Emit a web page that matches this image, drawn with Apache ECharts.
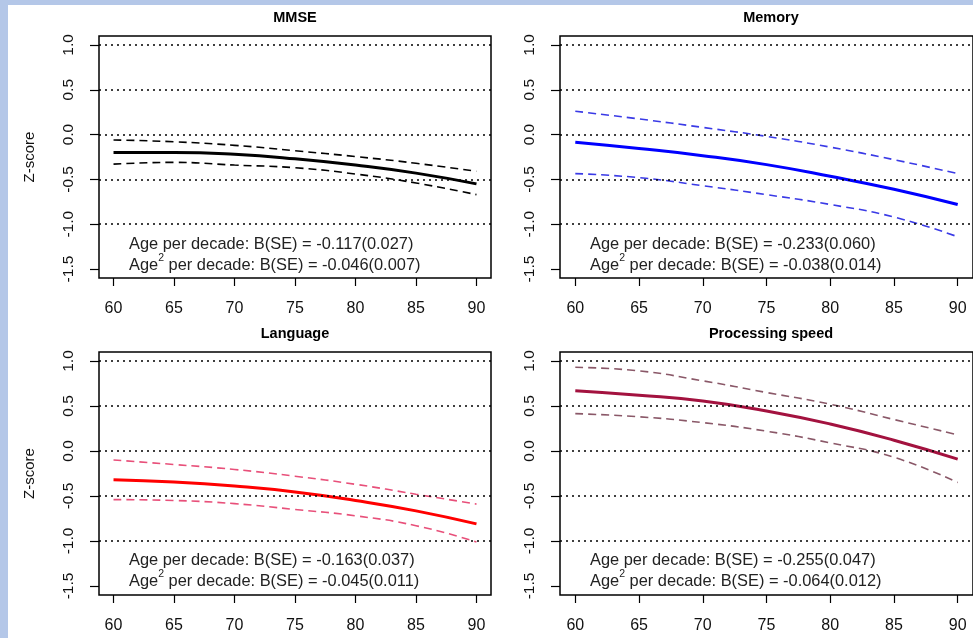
<!DOCTYPE html>
<html>
<head>
<meta charset="utf-8">
<script src="https://cdn.jsdelivr.net/npm/echarts@6/dist/echarts.min.js"></script>
<style>
  html, body { margin: 0; padding: 0; background: #fff; }
  #main { width: 973px; height: 638px; }
</style>
</head>
<body>
<div id="main"></div>
<script>
// ages on the x axis
var ages = [60, 65, 70, 75, 80, 85, 90];
var xTicks = [60, 65, 70, 75, 80, 85, 90];
var yTicks = [-1.5, -1.0, -0.5, 0.0, 0.5, 1.0];
var refLines = [1.0, 0.5, 0.0, -0.5, -1.0];

// MMSE
var mmseFit   = [-0.20, -0.20, -0.22, -0.27, -0.34, -0.43, -0.55];
var mmseUpper = [-0.06, -0.08, -0.12, -0.18, -0.245, -0.32, -0.41];
var mmseLower = [-0.33, -0.31, -0.34, -0.37, -0.44, -0.54, -0.67];
// Memory
var memFit   = [-0.085, -0.155, -0.235, -0.335, -0.465, -0.61, -0.78];
var memUpper = [0.26, 0.175, 0.08, -0.02, -0.14, -0.28, -0.435];
var memLower = [-0.435, -0.48, -0.57, -0.67, -0.78, -0.92, -1.14];
// Language
var langFit   = [-0.32, -0.345, -0.39, -0.455, -0.55, -0.665, -0.81];
var langUpper = [-0.10, -0.15, -0.205, -0.28, -0.37, -0.48, -0.59];
var langLower = [-0.54, -0.55, -0.585, -0.65, -0.72, -0.83, -1.01];
// Processing speed
var speedFit   = [0.67, 0.62, 0.555, 0.445, 0.30, 0.12, -0.09];
var speedUpper = [0.93, 0.89, 0.78, 0.65, 0.52, 0.35, 0.18];
var speedLower = [0.415, 0.38, 0.315, 0.22, 0.09, -0.07, -0.35];

var titles = ['MMSE', 'Memory', 'Language', 'Processing speed'];
var ageCoef  = ['-0.117(0.027)', '-0.233(0.060)', '-0.163(0.037)', '-0.255(0.047)'];
var age2Coef = ['-0.046(0.007)', '-0.038(0.014)', '-0.045(0.011)', '-0.064(0.012)'];

var panels = [
    {left: 99,  top: 36,  width: 392, height: 242, fit: mmseFit,  up: mmseUpper,  lo: mmseLower,  color: '#000000', dash: '#000000', zlabel: true},
    {left: 560, top: 36,  width: 422, height: 242, fit: memFit,   up: memUpper,   lo: memLower,   color: '#0000ff', dash: '#3a3ae6', zlabel: false},
    {left: 99,  top: 352, width: 392, height: 243, fit: langFit,  up: langUpper,  lo: langLower,  color: '#ff0000', dash: '#e8507a', zlabel: true},
    {left: 560, top: 352, width: 422, height: 243, fit: speedFit, up: speedUpper, lo: speedLower, color: '#a3123f', dash: '#8a5868', zlabel: false}
];

function pairs(vals) {
    return ages.map(function (a, i) { return [a, vals[i]]; });
}

var font = '"Liberation Sans", Arial, sans-serif';
var grids = [], xAxes = [], yAxes = [], series = [];
var graphics = [
    {type: 'rect', shape: {x: 0, y: 0, width: 973, height: 638}, style: {fill: '#b4c7e8'}, z: -10, silent: true},
    {type: 'rect', shape: {x: 8, y: 5, width: 965, height: 633}, style: {fill: '#ffffff'}, z: -9, silent: true}
];

panels.forEach(function (p, i) {
    grids.push({
        left: p.left, top: p.top, width: p.width, height: p.height,
        show: true, borderColor: '#000', borderWidth: 1.5, backgroundColor: 'transparent'
    });
    xAxes.push({
        gridIndex: i, type: 'value', min: 58.8, max: 91.2, position: 'bottom',
        axisLine: {show: false, onZero: false},
        axisTick: {show: true, inside: false, length: 8, customValues: xTicks, lineStyle: {color: '#000', width: 1.2}},
        axisLabel: {customValues: xTicks, margin: 23, color: '#111', fontSize: 16, fontFamily: font},
        splitLine: {show: false}
    });
    yAxes.push({
        gridIndex: i, type: 'value', min: -1.6, max: 1.1, position: 'left',
        name: p.zlabel ? 'Z-score' : '',
        nameLocation: 'middle', nameRotate: 90, nameGap: 62,
        nameTextStyle: {color: '#111', fontSize: 15, fontFamily: font},
        axisLine: {show: false, onZero: false},
        axisTick: {show: true, inside: false, length: 9, customValues: yTicks, lineStyle: {color: '#000', width: 1.2}},
        axisLabel: {
            customValues: yTicks, rotate: 90, margin: 22, color: '#111', fontSize: 15.5, fontFamily: font,
            formatter: function (v) { return v.toFixed(1); }
        },
        splitLine: {show: false}
    });
    series.push({
        type: 'line', xAxisIndex: i, yAxisIndex: i, data: pairs(p.fit),
        smooth: true, showSymbol: false, silent: true,
        lineStyle: {color: p.color, width: 3},
        markLine: {
            silent: true, symbol: 'none', label: {show: false}, animation: false,
            lineStyle: {color: '#000', type: [2, 4], width: 1.5},
            data: refLines.map(function (v) { return {yAxis: v}; })
        },
        z: 3
    });
    series.push({
        type: 'line', xAxisIndex: i, yAxisIndex: i, data: pairs(p.up),
        smooth: true, showSymbol: false, silent: true,
        lineStyle: {color: p.dash, width: 1.6, type: [8, 5]}
    });
    series.push({
        type: 'line', xAxisIndex: i, yAxisIndex: i, data: pairs(p.lo),
        smooth: true, showSymbol: false, silent: true,
        lineStyle: {color: p.dash, width: 1.6, type: [8, 5]}
    });

    // panel title
    graphics.push({
        type: 'text', x: p.left + p.width / 2, y: p.top - 18,
        style: {text: titles[i], align: 'center', verticalAlign: 'middle', fill: '#000',
                font: 'bold 14.5px ' + font}
    });
    // coefficient notes
    var tx = p.left + 30;
    graphics.push({
        type: 'text', x: tx, y: p.top + 208,
        style: {text: 'Age per decade: B(SE) = ' + ageCoef[i], align: 'left', verticalAlign: 'middle',
                fill: '#222', font: '16.4px ' + font}
    });
    graphics.push({
        type: 'text', x: tx, y: p.top + 227,
        style: {
            text: '{a|Age}{s|2}{a| per decade: B(SE) = ' + age2Coef[i] + '}',
            align: 'left', verticalAlign: 'middle', fill: '#222', font: '16.4px ' + font,
            rich: {
                a: {fontSize: 16.4, fontFamily: font, fill: '#222', lineHeight: 20, verticalAlign: 'bottom'},
                s: {fontSize: 10.5, fontFamily: font, fill: '#222', lineHeight: 20, verticalAlign: 'top'}
            }
        }
    });
});

var chart = echarts.init(document.getElementById('main'));
chart.setOption({
    animation: false,
    backgroundColor: '#ffffff',
    graphic: graphics,
    grid: grids,
    xAxis: xAxes,
    yAxis: yAxes,
    series: series
});
</script>
</body>
</html>
